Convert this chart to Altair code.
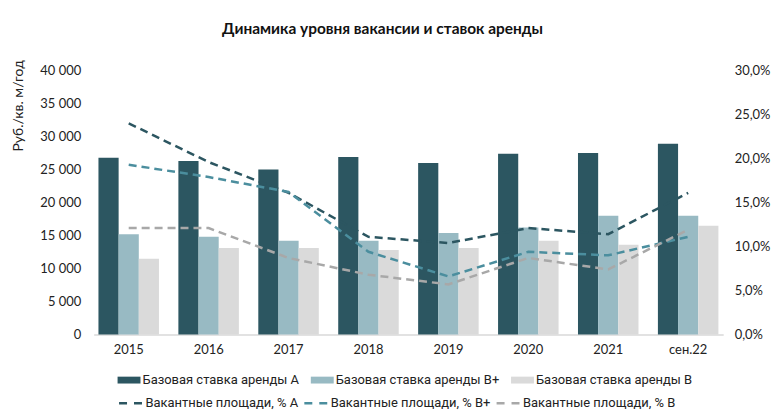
import altair as alt
import pandas as pd

cats = ["2015", "2016", "2017", "2018", "2019", "2020", "2021", "сен.22"]
bar_names = ["Базовая ставка аренды А", "Базовая ставка аренды В+", "Базовая ставка аренды В"]
rent_A = [26800, 26300, 25000, 26900, 26000, 27400, 27500, 28900]
rent_Bp = [15200, 14800, 14200, 14200, 15400, 16200, 18000, 18000]
rent_B = [11500, 13100, 13100, 12800, 13100, 14200, 13600, 16500]

line_names = ["Вакантные площади, % А", "Вакантные площади, % В+", "Вакантные площади, % В"]
vac_A = [0.240, 0.196, 0.161, 0.111, 0.104, 0.121, 0.114, 0.161]
vac_Bp = [0.193, 0.179, 0.162, 0.094, 0.066, 0.094, 0.090, 0.111]
vac_B = [0.121, 0.121, 0.087, 0.068, 0.057, 0.087, 0.074, 0.119]

bar_colors = ["#2c5661", "#98bac3", "#dadada"]
line_colors = ["#2c5661", "#4b8e9e", "#a8a8a8"]

bars_df = pd.DataFrame([
    {"cat": c, "series": n, "value": v[i]}
    for n, v in zip(bar_names, [rent_A, rent_Bp, rent_B])
    for i, c in enumerate(cats)
])
lines_df = pd.DataFrame([
    {"cat": c, "series": n, "value": v[i]}
    for n, v in zip(line_names, [vac_A, vac_Bp, vac_B])
    for i, c in enumerate(cats)
])

FONT = "Lato"
LFONT = "Roboto"

x_enc = alt.X(
    "cat:N", sort=cats,
    scale=alt.Scale(paddingInner=0.243, paddingOuter=0.06),
    axis=alt.Axis(title=None, labelAngle=0, domainColor="#d9d9d9", domainWidth=1.5,
                  ticks=False, labelFont=FONT, labelFontSize=13, labelColor="#222222",
                  labelPadding=9),
)

bars = alt.Chart(bars_df).mark_bar().encode(
    x=x_enc,
    xOffset=alt.XOffset("series:N", sort=bar_names,
                        scale=alt.Scale(domain=bar_names, paddingInner=0, paddingOuter=0)),
    y=alt.Y("value:Q", scale=alt.Scale(domain=[0, 40000]),
            axis=alt.Axis(values=list(range(0, 40001, 5000)),
                          labelExpr="replace(format(datum.value, ',d'), ',', ' ')",
                          title="Руб./кв. м/год", titleFont=FONT, titleFontWeight="normal",
                          titleFontSize=14, titleColor="#222222", titleAnchor="middle",
                          titleY=35, titlePadding=14,
                          grid=False, domain=False, ticks=False, labelFont=FONT,
                          labelFontSize=13, labelColor="#222222", labelPadding=13)),
    color=alt.Color("series:N", scale=alt.Scale(domain=bar_names, range=bar_colors),
                    legend=alt.Legend(title=None, orient="none", legendX=24, legendY=299,
                                      direction="horizontal", columns=3, columnPadding=11,
                                      symbolType="M-1,-0.3H1V0.3H-1Z", symbolSize=529,
                                      symbolStrokeWidth=0, symbolOpacity=1,
                                      labelFont=LFONT, labelFontSize=13, labelLimit=400,
                                      labelColor="#222222", labelOffset=2)),
)

lines = alt.Chart(lines_df).mark_line(strokeWidth=2.5, strokeDash=[8, 5]).encode(
    x=alt.X("cat:N", sort=cats),
    y=alt.Y("value:Q", scale=alt.Scale(domain=[0, 0.30]),
            axis=alt.Axis(orient="right", values=[0, 0.05, 0.10, 0.15, 0.20, 0.25, 0.30],
                          labelExpr="replace(format(datum.value, '.1%'), '.', ',')",
                          title=None, grid=False, domain=False, ticks=False,
                          labelFont=FONT, labelFontSize=13, labelColor="#222222",
                          labelPadding=11)),
    color=alt.Color("series:N", scale=alt.Scale(domain=line_names, range=line_colors),
                    legend=alt.Legend(title=None, orient="none", legendX=24, legendY=321,
                                      direction="horizontal", columns=3, columnPadding=0,
                                      symbolType="stroke", symbolSize=529,
                                      symbolStrokeWidth=2.5, symbolDash=[8, 7],
                                      labelFont=LFONT, labelFontSize=13, labelLimit=400,
                                      labelColor="#222222", labelOffset=2)),
)

chart = alt.layer(bars, lines).resolve_scale(
    y="independent", color="independent"
).properties(
    width=632, height=265,
    padding={"left": 3, "top": 13, "right": 5, "bottom": 5},
    title=alt.TitleParams("Динамика уровня вакансии и ставок аренды", font=FONT,
                          fontSize=15.5, fontWeight="bold", color="#111111",
                          anchor="middle", dx=-26, offset=22),
).configure_view(stroke=None)

chart.save("out.html", embed_options={"renderer": "svg", "actions": False})
